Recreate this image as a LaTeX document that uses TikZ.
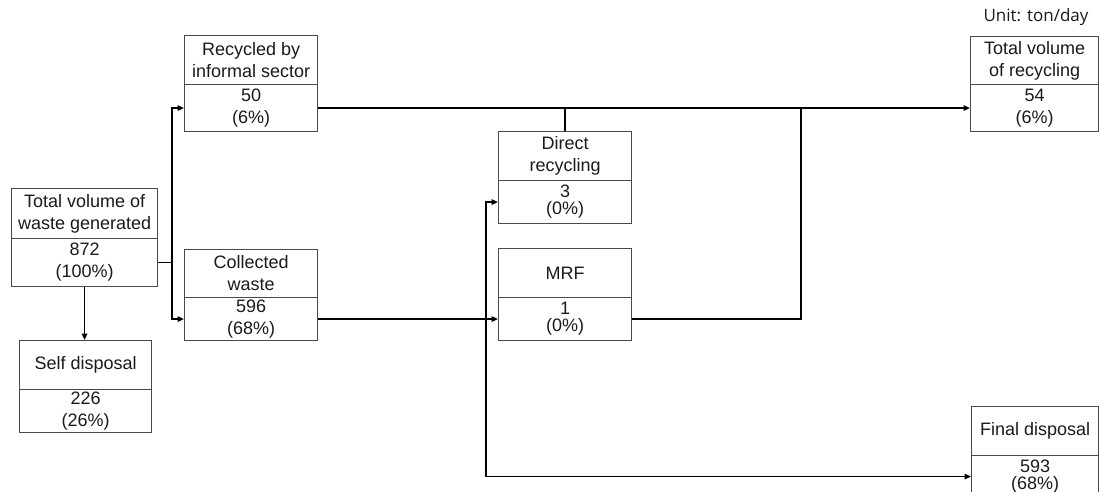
\documentclass[tikz,border=0pt]{standalone}
\usepackage{fontspec}
\setmainfont{Liberation Sans}
\newfontfamily\unitfont{Open Sans}
\usetikzlibrary{arrows.meta}
\definecolor{boxc}{HTML}{4A4A4A}
\definecolor{txtc}{HTML}{1A1A1A}
\begin{document}
\begin{tikzpicture}[x=1pt,y=-1pt,
  bx/.style={draw=boxc, line width=1.1pt, inner sep=0pt, anchor=north west, align=center, text=txtc, font=\fontsize{18}{22}\selectfont},
  tight/.style={font=\fontsize{18}{17}\selectfont},
  conn/.style={line width=1.8pt, black},
  arr/.style={conn, -{Triangle[length=6.5pt,width=5.5pt]}}]
\useasboundingbox (0,0) rectangle (1099,492);

% boxes
\node[bx, minimum width=133pt, minimum height=49pt] (rec) at (184,35) {Recycled by\\informal sector};
\node[bx, minimum width=133pt, minimum height=47pt] (recv) at (184,84) {50\\(6\%)};

\node[bx, minimum width=146pt, minimum height=50pt] (gen) at (11,188) {Total volume of\\waste generated};
\node[bx, minimum width=146pt, minimum height=48pt] (genv) at (11,238) {872\\(100\%)};

\node[bx, minimum width=133pt, minimum height=48pt] (col) at (184,249) {Collected\\waste};
\node[bx, minimum width=133pt, minimum height=43pt] (colv) at (184,297) {596\\(68\%)};

\node[bx, minimum width=132pt, minimum height=49pt] (self) at (19,340) {Self disposal};
\node[bx, minimum width=132pt, minimum height=43pt] (selfv) at (19,389) {226\\(26\%)};

\node[bx, minimum width=133pt, minimum height=49pt] (dir) at (498,131) {Direct\\recycling};
\node[bx, tight, minimum width=133pt, minimum height=43pt] (dirv) at (498,180) {3\\(0\%)};

\node[bx, minimum width=133pt, minimum height=49pt] (mrf) at (498,248) {MRF};
\node[bx, tight, minimum width=133pt, minimum height=43pt] (mrfv) at (498,297) {1\\(0\%)};

\node[bx, minimum width=128pt, minimum height=48pt] (tot) at (970,36) {Total volume\\of recycling};
\node[bx, minimum width=128pt, minimum height=47pt] (totv) at (970,84) {54\\(6\%)};

\node[bx, minimum width=127pt, minimum height=49pt] (fin) at (971,406) {Final disposal};
\node[bx, tight, minimum width=127pt, minimum height=42pt] (finv) at (971,455) {593\\(68\%)};

\node[anchor=center, text=txtc, font=\unitfont\fontsize{17}{20}\selectfont] (unit) at (1036,17) {Unit: ton/day};

% connectors
\coordinate (jA) at (172,0 |- genv.east);
\draw[conn] (genv.east) -- (jA);
\draw[arr] (jA) |- (recv.west);
\draw[arr] (jA) |- (colv.west);
\draw[arr] (genv.south) -- (genv.south |- self.north);

\draw[arr] (recv.east) -- (totv.west);
\draw[conn] (dir.north) -- (dir.north |- recv.east);
\coordinate (jM) at (801,0 |- mrfv.east);
\draw[conn] (mrfv.east) -- (jM) -- (jM |- recv.east);

\draw[arr] (colv.east) -- (mrfv.west);
\coordinate (jB) at (486,0 |- colv.east);
\draw[arr] (jB) |- (dirv.west);
\draw[arr] (jB) |- (finv.west);
\end{tikzpicture}
\end{document}
